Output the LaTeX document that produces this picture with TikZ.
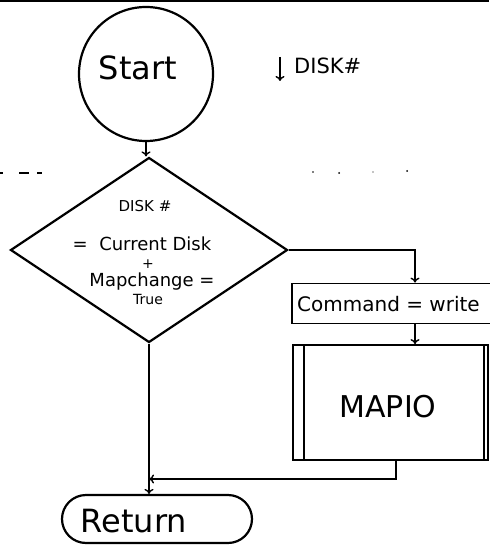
\documentclass[tikz,border=0pt]{standalone}
\usepackage{fontspec}
\setmainfont{DejaVu Sans}
\usetikzlibrary{shapes.geometric,arrows.meta}
\begin{document}
\begin{tikzpicture}[x=1pt,y=-1pt,
  outline/.style={draw,line width=2.2pt},
  boxline/.style={draw,line width=1.8pt},
  conn/.style={line width=1.4pt,-{To[length=5pt,width=9pt]}},
  plain/.style={line width=1.4pt},
  fs/.style={font=\fontsize{#1}{#1}\selectfont,inner sep=0}]
\useasboundingbox (0,0) rectangle (489,545);
\fill[white] (0,0) rectangle (489,545);
\draw[line width=3pt] (0,1) -- (489,1);
% start
\node[circle,outline,minimum size=134pt,inner sep=0] (start) at (146,74) {};
\node[fs=32] (starttxt) at (138,68) {Start};
% parameter
\coordinate (pa) at (280,57);
\coordinate (pb) at (280,81);
\draw[conn] (pa) -- (pb);
\node[fs=21,anchor=west] (disklbl) at (294,66) {DISK\#};
% dashed separator
\draw[plain] (0,173) -- (3,173);
\draw[plain] (19,173) -- (29,173);
\draw[plain] (37,173) -- (42,173);
\fill (313,172) circle (0.8);
\fill (339,173) circle (1);
\fill (373,172) circle (0.7);
\fill (407,171) circle (1);
% decision
\node[diamond,outline,minimum width=277pt,minimum height=185pt,inner sep=0] (dec) at (149,250) {};
\node[fs=15] (t1) at (145,206) {DISK \#};
\node[fs=18] (t2) at (142,244) {=\ \ Current Disk};
\node[fs=14] (t3) at (148,264) {+};
\node[fs=18] (t4) at (152,282) {Mapchange =};
\node[fs=14] (t5) at (148,299) {True};
% command box
\node[rectangle,boxline,minimum width=230pt,minimum height=40pt,inner sep=0] (cmd) at (407,303.5) {};
\node[fs=20,anchor=west] (cmdtxt) at (297,304) {Command = write};
% MAPIO predefined process
\node[rectangle,boxline,minimum width=195pt,minimum height=115pt,inner sep=0] (mapio) at (390.5,402.5) {};
\draw[plain] ([xshift=12pt]mapio.north west) -- ([xshift=12pt]mapio.south west);
\draw[plain] ([xshift=-5pt]mapio.north east) -- ([xshift=-5pt]mapio.south east);
\node[fs=30] (maptxt) at (388,407) {MAPIO};
% return
\node[rectangle,outline,rounded corners=24pt,minimum width=190pt,minimum height=48pt,inner sep=0] (ret) at (157,519) {};
\node[fs=32] (rettxt) at (134,521) {Return};
% connectors
\draw[conn] (start.south) -- (start.south |- dec.north);
\coordinate (c1) at (415,250);
\draw[conn] (dec.east) -- (c1) -- (c1 |- cmd.north);
\draw[conn] (c1 |- cmd.south) -- (c1 |- mapio.north);
\coordinate (c2) at (396,479);
\draw[conn] (c2 |- mapio.south) -- (c2) -- (dec.south |- c2);
\draw[conn] (dec.south) -- (dec.south |- ret.north);
\end{tikzpicture}
\end{document}
